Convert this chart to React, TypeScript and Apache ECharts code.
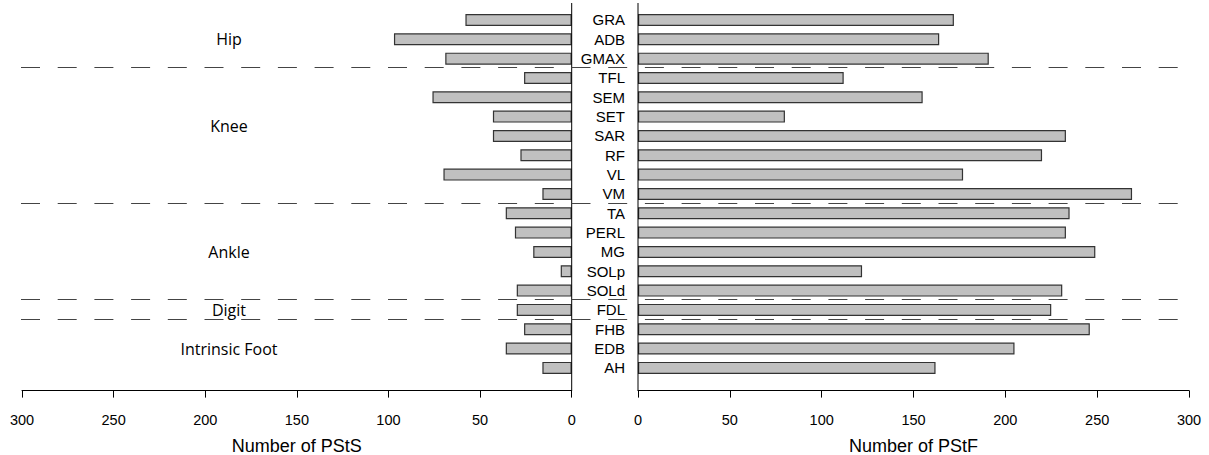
import React, { useEffect, useRef } from "react";
import * as echarts from "echarts";

const categories = ["GRA", "ADB", "GMAX", "TFL", "SEM", "SET", "SAR", "RF", "VL", "VM", "TA", "PERL", "MG", "SOLp", "SOLd", "FDL", "FHB", "EDB", "AH"];
const pstsValues = [58, 97, 69, 26, 76, 43, 43, 28, 70, 16, 36, 31, 21, 6, 30, 30, 26, 36, 16];
const pstfValues = [172, 164, 191, 112, 155, 80, 233, 220, 177, 269, 235, 233, 249, 122, 231, 225, 246, 205, 162];
const groupNames = ["Hip", "Knee", "Ankle", "Digit", "Intrinsic Foot"];
const groupSizes = [3, 7, 5, 1, 3];
const groupLabelRows = [1.5, 6, 12.5, 15.5, 17.5];
const axisTicks = [0, 50, 100, 150, 200, 250, 300];

const W = 1209;
const H = 455;
const TOP = 10.3;
const BAND = 19.33;
const PLOT_H = BAND * categories.length;
const AXIS_Y = 390.6;
const LEFT_X0 = 22;
const LEFT_X1 = 571.7;
const RIGHT_X0 = 638;
const RIGHT_X1 = 1189;

export default function App() {
  const ref = useRef<HTMLDivElement>(null);
  useEffect(() => {
    if (!ref.current) return;
    const chart = echarts.init(ref.current, null, { renderer: "svg" });
    const axisMax = axisTicks[axisTicks.length - 1];
    const interval = axisTicks[1] - axisTicks[0];

    const graphics: any[] = [];
    [LEFT_X1, RIGHT_X0].forEach((x) => {
      graphics.push({
        type: "line",
        shape: { x1: x, y1: 3, x2: x, y2: AXIS_Y },
        style: { stroke: "#000", lineWidth: 1 },
        z: 10,
      });
    });
    let cum = 0;
    groupSizes.slice(0, -1).forEach((n) => {
      cum += n;
      const y = Math.round(TOP + cum * BAND - 1) + 0.5;
      graphics.push({
        type: "line",
        shape: { x1: 21, y1: y, x2: 1180, y2: y },
        style: { stroke: "#444", lineWidth: 1, lineDash: [19, 17.7] },
        z: 20,
      });
    });
    groupNames.forEach((name, i) => {
      graphics.push({
        type: "text",
        x: 229,
        y: TOP + groupLabelRows[i] * BAND,
        style: {
          text: name,
          font: '16px "Open Sans"',
          fill: "#000",
          align: "center",
          verticalAlign: "middle",
        },
        z: 20,
      });
    });

    const xAxisCommon = {
      type: "value",
      min: 0,
      max: axisMax,
      interval,
      offset: AXIS_Y - (TOP + PLOT_H),
      nameLocation: "middle",
      nameGap: 46,
      nameTextStyle: { fontFamily: "Liberation Sans", fontSize: 18, color: "#000" },
      axisLine: { show: true, lineStyle: { color: "#000", width: 1 } },
      axisTick: { show: true, length: 7, lineStyle: { color: "#000" } },
      axisLabel: { fontFamily: "Liberation Sans", fontSize: 14.5, color: "#000", margin: 22 },
      splitLine: { show: false },
    };

    const gridCommon = { containLabel: false, outerBoundsMode: "none", top: TOP, height: PLOT_H };

    chart.setOption({
      animation: false,
      backgroundColor: "#fff",
      grid: [
        { ...gridCommon, left: LEFT_X0, width: LEFT_X1 - LEFT_X0 },
        { ...gridCommon, left: RIGHT_X0, width: RIGHT_X1 - RIGHT_X0 },
      ],
      xAxis: [
        { ...xAxisCommon, gridIndex: 0, inverse: true, name: "Number of PStS" },
        { ...xAxisCommon, gridIndex: 1, name: "Number of PStF" },
      ],
      yAxis: [
        {
          type: "category",
          gridIndex: 0,
          data: categories,
          inverse: true,
          position: "right",
          axisLine: { show: false },
          axisTick: { show: false },
          axisLabel: { show: false },
        },
        {
          type: "category",
          gridIndex: 1,
          data: categories,
          inverse: true,
          position: "left",
          axisLine: { show: false },
          axisTick: { show: false },
          axisLabel: { interval: 0, fontFamily: "Liberation Sans", fontSize: 15, color: "#000", margin: 13 },
        },
      ],
      series: [
        {
          type: "bar",
          name: "PStS",
          xAxisIndex: 0,
          yAxisIndex: 0,
          data: pstsValues,
          barWidth: 12,
          itemStyle: { color: "#c0c0c0", borderColor: "#333", borderWidth: 1.2 },
        },
        {
          type: "bar",
          name: "PStF",
          xAxisIndex: 1,
          yAxisIndex: 1,
          data: pstfValues,
          barWidth: 12,
          itemStyle: { color: "#c0c0c0", borderColor: "#333", borderWidth: 1.2 },
        },
      ],
      graphic: graphics,
    });
    return () => chart.dispose();
  }, []);
  return (
    <div
      ref={ref}
      style={{ position: "fixed", left: 0, top: 0, width: W, height: H, background: "#fff" }}
    />
  );
}
